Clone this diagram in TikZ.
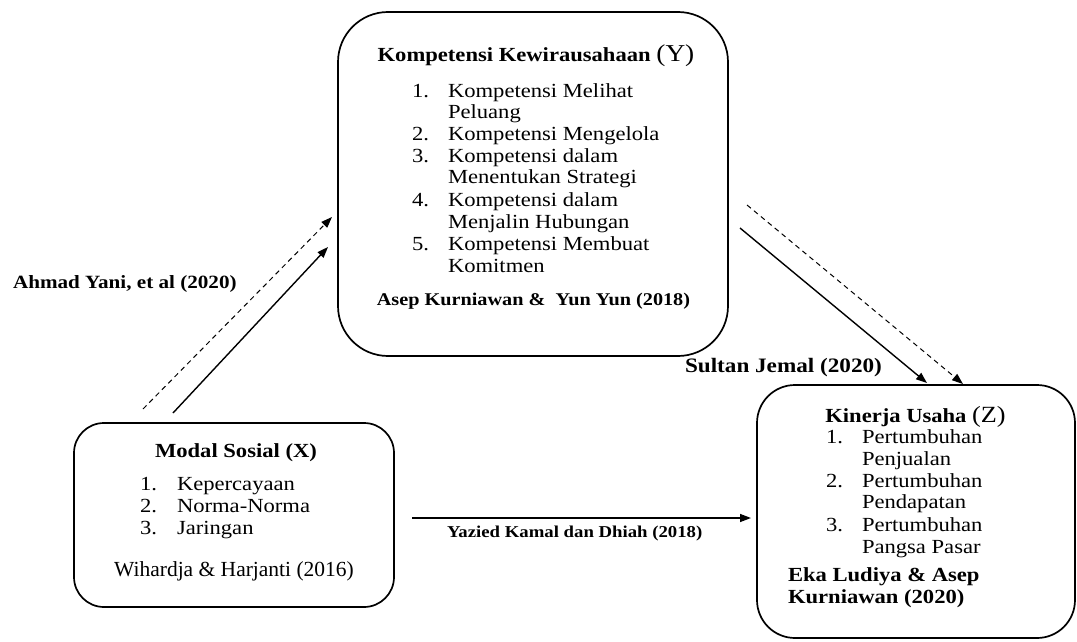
\documentclass[tikz,border=0pt]{standalone}
\usepackage{fontspec}
\setmainfont[FakeStretch=1.13]{Liberation Serif}
\newfontfamily\plainserif{Liberation Serif}
\usetikzlibrary{arrows.meta}
\newcommand\myfs[1]{\fontsize{#1}{#1}\selectfont}
\begin{document}
\begin{tikzpicture}[x=1pt,y=-1pt,
  box/.style={draw,line width=1.7pt,inner sep=0pt,outer sep=0pt},
  txt/.style={inner sep=0pt,outer sep=0pt,anchor=base west,font=\myfs{20}},
  ttl/.style={inner sep=0pt,outer sep=0pt,anchor=base,font=\myfs{20}\bfseries},
  lbl/.style={inner sep=0pt,outer sep=0pt,anchor=base west,font=\bfseries},
  conn/.style={line width=1.4pt,-{Triangle[length=11pt,width=8pt]}},
  dconn/.style={line width=1pt,dash pattern=on 5pt off 4pt,-{Triangle[length=11pt,width=8pt]}}]
\useasboundingbox (0,0) rectangle (1077,642);
% boxes
\node[box,rounded corners=50pt,minimum width=390pt,minimum height=344pt] (Y) at (533,184) {};
\node[box,rounded corners=30pt,minimum width=320pt,minimum height=184pt] (X) at (234,515) {};
\node[box,rounded corners=38pt,minimum width=318pt,minimum height=253pt] (Z) at (916,511.5) {};
% Y contents
\node[ttl] (yt) at (536,62) {Kompetensi Kewirausahaan {\mdseries\myfs{24.2}(Y)}};
\node[txt] (yn1) at (412,97) {1.};
\node[txt] (ya1) at (448,97) {Kompetensi Melihat};
\node[txt] (yb1) at (448,118.5) {Peluang};
\node[txt] (yn2) at (412,140) {2.};
\node[txt] (ya2) at (448,140) {Kompetensi Mengelola};
\node[txt] (yn3) at (412,162) {3.};
\node[txt] (ya3) at (448,162) {Kompetensi dalam};
\node[txt] (yb3) at (448,183.5) {Menentukan Strategi};
\node[txt] (yn4) at (412,206) {4.};
\node[txt] (ya4) at (448,206) {Kompetensi dalam};
\node[txt] (yb4) at (448,228) {Menjalin Hubungan};
\node[txt] (yn5) at (412,250) {5.};
\node[txt] (ya5) at (448,250) {Kompetensi Membuat};
\node[txt] (yb5) at (448,272) {Komitmen};
\node[ttl,font=\myfs{17.9}\bfseries] (yf) at (533.5,305) {Asep Kurniawan \&~ Yun Yun (2018)};
% X contents
\node[ttl] (xt) at (236,457) {Modal Sosial (X)};
\node[txt] (xn1) at (140,490) {1.};
\node[txt] (xa1) at (177,490) {Kepercayaan};
\node[txt] (xn2) at (140,512) {2.};
\node[txt] (xa2) at (177,512) {Norma-Norma};
\node[txt] (xn3) at (140,534) {3.};
\node[txt] (xa3) at (177,534) {Jaringan};
\node[ttl,font=\plainserif\myfs{21.5}] (xf) at (234,576) {Wihardja \& Harjanti (2016)};
% Z contents
\node[ttl] (zt) at (915.5,422) {Kinerja Usaha {\mdseries\myfs{23.2}(Z)}};
\node[txt] (zn1) at (826,443) {1.};
\node[txt] (za1) at (862,443) {Pertumbuhan};
\node[txt] (zb1) at (862,465) {Penjualan};
\node[txt] (zn2) at (826,487) {2.};
\node[txt] (za2) at (862,487) {Pertumbuhan};
\node[txt] (zb2) at (862,508.5) {Pendapatan};
\node[txt] (zn3) at (826,531) {3.};
\node[txt] (za3) at (862,531) {Pertumbuhan};
\node[txt] (zb3) at (862,553) {Pangsa Pasar};
\node[txt,font=\myfs{20}\bfseries] (zf1) at (788,581) {Eka Ludiya \& Asep};
\node[txt,font=\myfs{20}\bfseries] (zf2) at (788,603) {Kurniawan (2020)};
% connector labels
\node[lbl,font=\myfs{18.7}\bfseries] (l1) at (13,288) {Ahmad Yani, et al (2020)};
\node[lbl,font=\myfs{20.5}\bfseries] (l2) at (685,372) {Sultan Jemal (2020)};
\node[lbl,font=\myfs{16.6}\bfseries] (l3) at (447,537) {Yazied Kamal dan Dhiah (2018)};
% connector end points
\coordinate (d1s) at (143,409);
\coordinate (d1e) at (332,217);
\coordinate (s1s) at (173,413);
\coordinate (s1e) at (328,247);
\coordinate (s2s) at (740,228);
\coordinate (s2e) at (927,383);
\coordinate (d2s) at (747,205);
\coordinate (d2e) at (963,384);
\coordinate (hs) at (412,518);
\coordinate (he) at (751,518);
\draw[dconn] (d1s) -- (d1e);
\draw[conn] (s1s) -- (s1e);
\draw[conn] (s2s) -- (s2e);
\draw[dconn] (d2s) -- (d2e);
\draw[conn] (hs) -- (he);
\end{tikzpicture}
\end{document}
